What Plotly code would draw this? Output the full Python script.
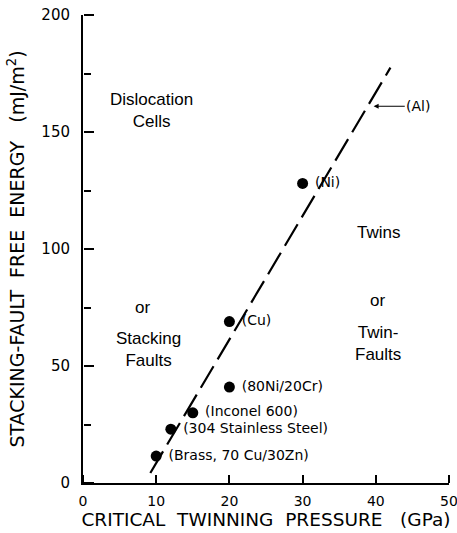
import plotly.graph_objects as go

# Measured alloys: critical twinning pressure (GPa) vs stacking-fault free energy (mJ/m^2)
alloy_names = ["(Brass, 70 Cu/30Zn)", "(304 Stainless Steel)", "(Inconel 600)",
               "(80Ni/20Cr)", "(Cu)", "(Ni)"]
pressure_gpa = [10, 12, 15, 20, 20, 30]
sffe_mj = [11.5, 23, 30, 41, 69, 128]

# Boundary between the two deformation regimes (dashed line)
boundary_x = [9.2, 42.0]
boundary_y = [4.3, 177.5]

# Aluminium reference point on the boundary
al_x, al_y = 39.7, 161

x_range = [0, 50]
y_range = [0, 200]
x_ticks = [0, 10, 20, 30, 40, 50]
y_ticks = [0, 50, 100, 150, 200]
y_minor = [25, 75, 125, 175]

FONT = "DejaVu Sans"

fig = go.Figure()

fig.add_trace(go.Scatter(
    x=boundary_x, y=boundary_y, mode="lines",
    line=dict(color="black", width=2.2, dash="25px,8px"),
    hoverinfo="skip", showlegend=False))

# Data points live on the overlay axes, which carry the inward-pointing ticks
fig.add_trace(go.Scatter(
    x=pressure_gpa, y=sffe_mj, mode="markers+text",
    xaxis="x2", yaxis="y2",
    marker=dict(color="black", size=11),
    text=alloy_names, texttemplate=" %{text}", textposition="middle right",
    textfont=dict(family=FONT, size=14, color="black"),
    showlegend=False))

# Region labels
regions = [
    (9.4, 159, "Dislocation<br>Cells"),
    (40.3, 107, "Twins"),
    (40.2, 78, "or"),
    (40.3, 59.5, "Twin-<br>Faults"),
    (8.1, 75, "or"),
    (9.0, 57, "Stacking<br>Faults"),
]
for rx, ry, rt in regions:
    fig.add_annotation(x=rx, y=ry, text=rt, showarrow=False,
                       font=dict(family="Liberation Sans", size=17, color="black"),
                       align="center")

# Arrow marking aluminium
fig.add_annotation(x=al_x, y=al_y, ax=45.8, ay=al_y, axref="x", ayref="y",
                   text="(Al)", showarrow=True, arrowhead=2, arrowsize=1,
                   arrowwidth=1, arrowcolor="black", standoff=0,
                   font=dict(family=FONT, size=14, color="black"))

# Main axes: lines, tick labels and titles
fig.update_layout(
    xaxis=dict(
        range=x_range, tickmode="array", tickvals=x_ticks, ticks="",
        showline=True, linecolor="black", linewidth=2,
        showgrid=False, zeroline=False, ticklabeloverflow="allow",
        automargin=False, ticklabelstandoff=4,
        tickfont=dict(family=FONT, size=14, color="black"),
        title=dict(text="CRITICAL  TWINNING  PRESSURE   (GPa)",
                   font=dict(family=FONT, size=18.5, color="black"), standoff=4),
    ),
    yaxis=dict(
        range=y_range, tickmode="array", tickvals=y_ticks, ticks="",
        showline=True, linecolor="black", linewidth=2,
        showgrid=False, zeroline=False, automargin=False,
        ticklabelstandoff=8,
        tickfont=dict(family=FONT, size=15, color="black"),
        title=dict(text="STACKING-FAULT  FREE  ENERGY   (mJ/m<sup>2</sup>)",
                   font=dict(family=FONT, size=19, color="black"), standoff=12),
    ),
    # Overlay axes sitting on the main axis lines; their outward ticks point into the plot
    xaxis2=dict(
        overlaying="x", anchor="free", position=0, side="top",
        range=x_range, tickmode="array", tickvals=x_ticks,
        ticks="outside", ticklen=8, tickwidth=2, tickcolor="black",
        showticklabels=False, showline=False, showgrid=False, zeroline=False,
    ),
    yaxis2=dict(
        overlaying="y", anchor="free", position=0, side="right",
        range=y_range, tickmode="array", tickvals=y_ticks,
        ticks="outside", ticklen=10, tickwidth=2, tickcolor="black",
        minor=dict(tickmode="array", tickvals=y_minor, ticks="outside", ticklen=7,
                   tickcolor="black", tickwidth=2),
        showticklabels=False, showline=False, showgrid=False, zeroline=False,
    ),
    width=457, height=533,
    margin=dict(l=83, r=8, t=15, b=50),
    paper_bgcolor="white", plot_bgcolor="white",
)

fig.write_html("out.html")
